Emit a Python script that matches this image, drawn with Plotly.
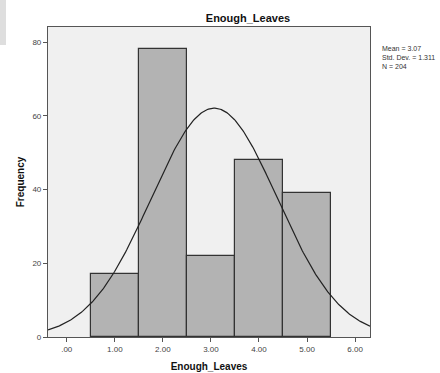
import numpy as np
import plotly.graph_objects as go

# Data
bin_centers = [1.0, 2.0, 3.0, 4.0, 5.0]
frequencies = [17, 78, 22, 48, 39]
mean_val = 3.07
std_val = 1.311
n_val = 204
x_tick_vals = [0, 1, 2, 3, 4, 5, 6]
x_tick_text = [".00", "1.00", "2.00", "3.00", "4.00", "5.00", "6.00"]
y_tick_vals = [0, 20, 40, 60, 80]

# Fitted normal curve (as drawn by SPSS from the stats above)
xs = np.linspace(-0.39, 6.31, 300)
ys = n_val * 1.0 * np.exp(-0.5 * ((xs - mean_val) / std_val) ** 2) / (std_val * np.sqrt(2 * np.pi))

fig = go.Figure()
fig.add_trace(go.Bar(
    x=bin_centers, y=frequencies, width=1.0,
    marker=dict(color="#b3b3b3", line=dict(color="#333333", width=1.2)),
    showlegend=False, hoverinfo="skip",
))
fig.add_trace(go.Scatter(
    x=xs, y=ys, mode="lines",
    line=dict(color="#222222", width=1.2),
    showlegend=False, hoverinfo="skip",
))

font_family = "Liberation Sans, Arial, sans-serif"
L, R, T, B = 48, 70, 27, 36
W, H = 440, 373
pw, ph = W - L - R, H - T - B
fig.update_layout(
    width=W, height=H,
    margin=dict(l=L, r=R, t=T, b=B, autoexpand=False),
    paper_bgcolor="white",
    plot_bgcolor="#f0f0f0",
    bargap=0,
    font=dict(family=font_family, size=8, color="#333333"),
    title=dict(text="<b>Enough_Leaves</b>", x=248 / W, xanchor="center",
               y=1 - 18 / H, yanchor="middle",
               font=dict(size=11, color="#111111", family=font_family)),
    xaxis=dict(
        range=[-0.39, 6.31], tickvals=x_tick_vals, ticktext=x_tick_text,
        showgrid=False, zeroline=False, showline=True, mirror=True,
        linecolor="#555555", linewidth=1.2, automargin=False,
        ticks="outside", ticklen=4, tickcolor="#555555",
        tickfont=dict(size=8, color="#444444"),
        title=dict(text="<b>Enough_Leaves</b>", standoff=10,
                   font=dict(size=10, color="#111111")),
    ),
    yaxis=dict(
        range=[0, 84.1], tickvals=y_tick_vals,
        showgrid=False, zeroline=False, showline=True, mirror=True,
        linecolor="#555555", linewidth=1.2, automargin=False,
        ticks="outside", ticklen=4, tickcolor="#555555",
        tickfont=dict(size=8, color="#444444"),
        title=dict(text="<b>Frequency</b>", standoff=5,
                   font=dict(size=10, color="#111111")),
    ),
    annotations=[dict(
        x=(437 - L) / pw, y=1 - (43 - T) / ph, xref="paper", yref="paper",
        xanchor="right", yanchor="top", align="left", showarrow=False,
        text=f"Mean = {mean_val:.2f}<br>Std. Dev. = {std_val}<br>N = {n_val}",
        font=dict(size=7, color="#333333"),
    )],
    shapes=[dict(
        type="rect", xref="paper", yref="paper", layer="below",
        x0=(0 - L) / pw, x1=(6 - L) / pw, y0=1 - (45 - T) / ph, y1=1 + T / ph,
        fillcolor="#dedede", line=dict(width=0),
    )],
)

fig.write_html(
    "out.html",
    config={"displayModeBar": False},
    post_script="document.body.style.margin='0';document.body.style.padding='0';"
                "document.body.style.overflow='hidden';",
)
